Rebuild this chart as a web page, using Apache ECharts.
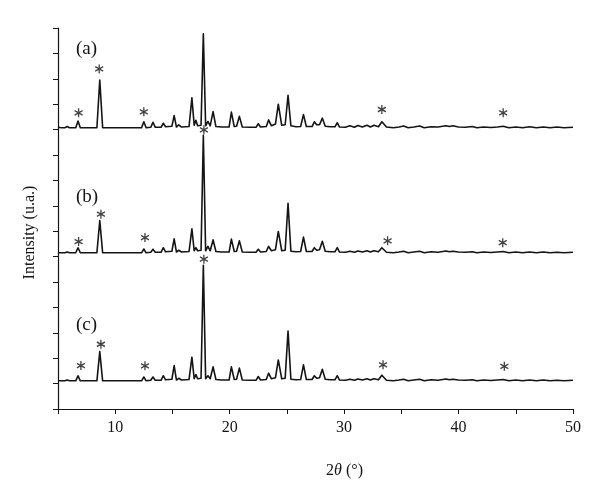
<!DOCTYPE html>
<html>
<head>
<meta charset="utf-8">
<script src="https://cdn.jsdelivr.net/npm/echarts@6/dist/echarts.min.js"></script>
<style>
  html, body { margin: 0; padding: 0; background: #fff; }
  #wrap { width: 600px; height: 491px; }
</style>
</head>
<body>
<div id="wrap"></div>
<script>
// 2theta positions shared by the three patterns
var twoTheta = [
  5.0, 5.3, 5.6, 5.8, 6.0, 6.55, 6.75, 6.95, 7.5, 8.4, 8.65, 8.9, 9.5,
  11.0, 12.3, 12.5, 12.7, 13.1, 13.3, 13.5, 14.0, 14.2, 14.4, 14.95, 15.15, 15.35, 15.55, 15.8,
  16.45, 16.7, 16.9, 17.05, 17.2, 17.5, 17.7, 17.9, 18.1, 18.3, 18.55, 18.8, 19.3,
  19.95, 20.15, 20.4, 20.6, 20.85, 21.1,
  21.8, 22.3, 22.5, 22.7, 23.2, 23.4, 23.65, 24.0, 24.25, 24.55, 24.85, 25.1, 25.35, 25.8,
  26.2, 26.45, 26.7, 27.2, 27.4, 27.6, 27.85, 28.1, 28.35, 28.8, 29.2, 29.4, 29.6,
  30.1, 30.5, 30.9, 31.2, 31.6, 32.0, 32.3, 32.6, 33.0, 33.3,
  33.7, 34.3, 34.8, 35.2, 35.6, 36.1, 36.6, 37.0, 37.6, 38.2,
  38.9, 39.2, 39.5, 40.0, 40.6, 41.2, 41.6, 42.2, 42.8, 43.4,
  43.9, 44.4, 45.0, 45.6, 46.2, 46.8, 47.4, 48.0, 48.6, 49.2, 50.0
];

// intensities above each pattern's own baseline
var patternA = [
  0.02, 0, 0, 0.05, 0, 0, 0.27, 0, 0, 0, 1.88, 0, 0,
  0, 0, 0.24, 0, 0.02, 0.22, 0.02, 0.02, 0.18, 0.04, 0.06, 0.48, 0.03, 0.12, 0.03,
  0.05, 1.18, 0.1, 0.3, 0.08, 0.1, 3.7, 0.08, 0.25, 0.08, 0.64, 0.05, 0.03,
  0.03, 0.62, 0.05, 0.06, 0.45, 0.03,
  0.02, 0.02, 0.16, 0.03, 0.05, 0.31, 0.08, 0.15, 0.93, 0.1, 0.12, 1.28, 0.08, 0.04,
  0.05, 0.52, 0.05, 0.05, 0.24, 0.12, 0.12, 0.38, 0.06, 0.04, 0.04, 0.2, 0.03,
  0.02, 0.08, 0.02, 0.09, 0.03, 0.1, 0.03, 0.1, 0.04, 0.24,
  0.03, 0, 0.03, 0.07, 0, 0.03, 0.07, 0, 0.04, 0.03,
  0.08, 0.05, 0.08, 0.03, 0.02, 0.05, 0, 0.03, 0.01, 0.03,
  0.06, 0, 0.03, 0, 0.04, 0, 0.03, 0, 0.03, 0, 0.02
];
var patternB = [
  0, 0, 0, 0.03, 0, 0, 0.2, 0, 0, 0, 1.27, 0, 0,
  0, 0, 0.15, 0, 0.02, 0.14, 0.02, 0.02, 0.2, 0.04, 0.06, 0.55, 0.03, 0.1, 0.03,
  0.05, 0.94, 0.08, 0.2, 0.08, 0.1, 4.63, 0.08, 0.25, 0.08, 0.51, 0.05, 0.03,
  0.03, 0.54, 0.05, 0.06, 0.47, 0.03,
  0.02, 0.02, 0.14, 0.03, 0.05, 0.25, 0.08, 0.12, 0.84, 0.08, 0.1, 1.95, 0.06, 0.04,
  0.05, 0.62, 0.05, 0.05, 0.2, 0.1, 0.12, 0.45, 0.06, 0.04, 0.04, 0.2, 0.03,
  0.02, 0.06, 0.02, 0.07, 0.03, 0.08, 0.03, 0.08, 0.04, 0.2,
  0.02, 0, 0.03, 0.06, 0, 0.03, 0.06, 0, 0.04, 0.02,
  0.07, 0.04, 0.06, 0.03, 0.02, 0.04, 0, 0.03, 0.01, 0.03,
  0.05, 0, 0.03, 0, 0.03, 0, 0.03, 0, 0.02, 0, 0.02
];
var patternC = [
  0, 0, 0, 0.03, 0, 0, 0.2, 0, 0, 0, 1.15, 0, 0,
  0, 0, 0.15, 0, 0.02, 0.15, 0.02, 0.02, 0.2, 0.04, 0.06, 0.6, 0.03, 0.1, 0.03,
  0.05, 0.93, 0.08, 0.25, 0.08, 0.1, 4.55, 0.08, 0.2, 0.08, 0.55, 0.05, 0.03,
  0.03, 0.55, 0.05, 0.06, 0.5, 0.03,
  0.02, 0.02, 0.17, 0.03, 0.05, 0.3, 0.08, 0.12, 0.82, 0.08, 0.1, 1.96, 0.06, 0.04,
  0.05, 0.63, 0.05, 0.05, 0.2, 0.1, 0.12, 0.45, 0.06, 0.04, 0.04, 0.2, 0.03,
  0.02, 0.06, 0.02, 0.07, 0.03, 0.08, 0.03, 0.08, 0.04, 0.22,
  0.02, 0, 0.03, 0.06, 0, 0.03, 0.06, 0, 0.04, 0.02,
  0.07, 0.04, 0.06, 0.03, 0.02, 0.04, 0, 0.03, 0.01, 0.03,
  0.05, 0, 0.03, 0, 0.03, 0, 0.03, 0, 0.02, 0, 0.02
];

// vertical shift of each pattern (stacked display)
var offsets = { a: 11.07, b: 6.15, c: 1.11 };

// asterisk markers [2theta, height above baseline]
var starsA = [[6.8, 0.59], [8.6, 2.32], [12.5, 0.63], [17.67, 4.09], [33.3, 0.72], [43.9, 0.59]];
var starsB = [[6.8, 0.44], [8.75, 1.52], [12.6, 0.6], [17.75, 4.84], [33.8, 0.47], [43.86, 0.4]];
var starsC = [[7.0, 0.6], [8.75, 1.44], [12.6, 0.59], [17.75, 4.79], [33.4, 0.63], [44.0, 0.57]];

var xTicks = [10, 20, 30, 40, 50];

var FONT = '"Liberation Serif", "DejaVu Serif", serif';
var INK = '#141414';

function shift(ys, off) {
    return twoTheta.map(function (x, i) { return [x, ys[i] + off]; });
}
function shiftStars(pts, off) {
    return pts.map(function (p) { return [p[0], p[1] + off]; });
}

var starPath = 'path://M5,0L5,10M0.67,2.5L9.33,7.5M0.67,7.5L9.33,2.5';

function lineSeries(name, ys, off) {
    return {
        name: name,
        type: 'line',
        data: shift(ys, off),
        symbol: 'none',
        silent: true,
        lineStyle: { color: INK, width: 1.6, join: 'round' },
        z: 2
    };
}
function starSeries(pts, off) {
    return {
        type: 'scatter',
        data: shiftStars(pts, off),
        symbol: starPath,
        symbolSize: [8, 9],
        silent: true,
        itemStyle: { color: 'transparent', borderColor: INK, borderWidth: 1.4 },
        z: 3
    };
}

var wrap = document.getElementById('wrap');
var myChart = echarts.init(wrap, null, { renderer: 'canvas' });

var option = {
    animation: false,
    backgroundColor: '#fff',
    grid: { left: 58, right: 27, top: 28, bottom: 82 },
    xAxis: {
        type: 'value',
        min: 5,
        max: 50,
        interval: 5,
        name: '2{i|θ} (°)',
        nameLocation: 'middle',
        nameGap: 54,
        nameTextStyle: {
            fontFamily: FONT, fontSize: 16, color: INK,
            padding: [0, 0, 0, 58],
            rich: { i: { fontFamily: FONT, fontSize: 16, fontStyle: 'italic', color: INK } }
        },
        axisLine: { onZero: false, lineStyle: { color: INK, width: 1.2 } },
        axisTick: { length: 5, lineStyle: { color: INK, width: 1 } },
        axisLabel: {
            margin: 11,
            fontFamily: FONT, fontSize: 16, color: INK,
            formatter: function (v) { return xTicks.indexOf(v) >= 0 ? String(v) : ''; }
        },
        splitLine: { show: false }
    },
    yAxis: {
        type: 'value',
        min: 0,
        max: 15,
        interval: 1,
        name: 'Intensity (u.a.)',
        nameLocation: 'middle',
        nameGap: 20,
        nameTextStyle: { fontFamily: FONT, fontSize: 16, color: INK, padding: [0, 28, 0, 0] },
        axisLine: { show: true, onZero: false, lineStyle: { color: INK, width: 1.2 } },
        axisTick: { show: true, length: 5, lineStyle: { color: INK, width: 1 } },
        axisLabel: { show: false },
        splitLine: { show: false }
    },
    graphic: [
        { type: 'text', left: 76, top: 40, style: { text: '(a)', font: '19px ' + FONT, fill: INK } },
        { type: 'text', left: 76, top: 188, style: { text: '(b)', font: '19px ' + FONT, fill: INK } },
        { type: 'text', left: 76, top: 316, style: { text: '(c)', font: '19px ' + FONT, fill: INK } }
    ],
    series: [
        lineSeries('a', patternA, offsets.a),
        lineSeries('b', patternB, offsets.b),
        lineSeries('c', patternC, offsets.c),
        starSeries(starsA, offsets.a),
        starSeries(starsB, offsets.b),
        starSeries(starsC, offsets.c)
    ]
};

myChart.setOption(option);
</script>
</body>
</html>
